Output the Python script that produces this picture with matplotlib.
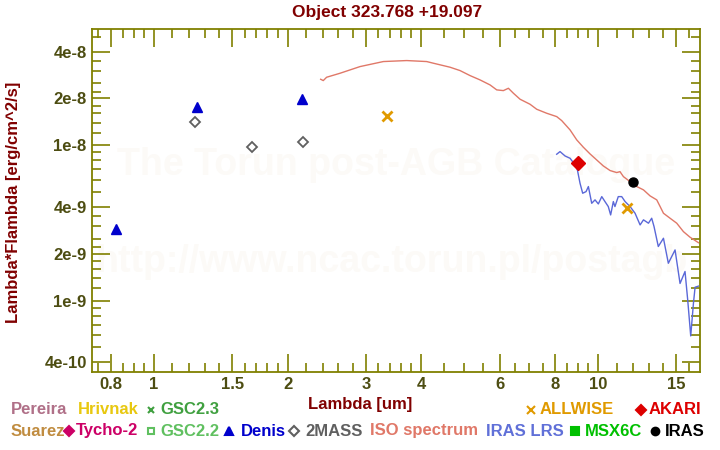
import matplotlib
matplotlib.use("Agg")
import matplotlib.pyplot as plt
from matplotlib.ticker import FixedLocator, NullFormatter

plt.rcParams['font.family'] = ['Liberation Sans', 'DejaVu Sans']
plt.rcParams['font.weight'] = 'bold'

# photometry (wavelength um, lambda*F_lambda erg/cm2/s)
denis_wl = [0.82, 1.25, 2.15]
denis_fl = [2.87e-9, 1.77e-8, 1.98e-8]
mass2_wl = [1.235, 1.66, 2.16]
mass2_fl = [1.41e-8, 9.7e-9, 1.045e-8]
allwise_wl = [3.35, 11.6]
allwise_fl = [1.55e-8, 3.94e-9]
akari_wl = [9.0]
akari_fl = [7.66e-9]
iras_wl = [12.0]
iras_fl = [5.78e-9]

# ISO spectrum
iso_wl = [2.373, 2.405, 2.447, 2.623, 2.910, 3.284, 3.706, 4.111, 4.256, 4.640,
          4.887, 5.147, 5.422, 5.710, 5.911, 6.118, 6.280, 6.445, 6.672, 7.025,
          7.272, 7.658, 8.067, 8.279, 8.646, 8.950, 9.264, 9.589, 9.926, 10.27,
          10.64, 11.01, 11.20, 11.40, 11.80, 12.22, 12.65, 13.09, 13.55, 13.79,
          14.03, 14.52, 15.03, 15.56, 16.10, 16.82]
iso_fl = [2.657e-8, 2.605e-8, 2.737e-8, 2.904e-8, 3.206e-8, 3.454e-8, 3.505e-8, 3.454e-8, 3.370e-8, 3.176e-8,
          3.022e-8, 2.806e-8, 2.631e-8, 2.443e-8, 2.270e-8, 2.246e-8, 2.325e-8, 2.160e-8, 1.976e-8, 1.835e-8,
          1.704e-8, 1.606e-8, 1.528e-8, 1.440e-8, 1.254e-8, 1.082e-8, 9.70e-9, 8.79e-9, 8.04e-9, 7.36e-9,
          6.87e-9, 6.67e-9, 6.76e-9, 6.28e-9, 5.83e-9, 5.42e-9, 5.16e-9, 4.72e-9, 4.45e-9, 4.03e-9,
          3.65e-9, 3.39e-9, 3.15e-9, 2.78e-9, 2.56e-9, 2.36e-9]

# IRAS LRS spectrum
lrs_wl = [8.067, 8.207, 8.423, 8.646, 8.872, 8.98, 9.104, 9.23, 9.393, 9.507,
          9.672, 9.84, 10.01, 10.19, 10.36, 10.54, 10.67, 10.82, 10.91, 11.10,
          11.30, 11.50, 11.80, 12.11, 12.43, 12.65, 12.98, 13.20, 13.36, 13.66,
          14.03, 14.39, 14.90, 15.29, 15.69, 15.91, 16.16, 16.39, 16.53, 16.82]
lrs_fl = [8.75e-9, 9.10e-9, 8.53e-9, 8.24e-9, 7.47e-9, 6.94e-9, 5.69e-9, 4.91e-9, 5.03e-9, 5.42e-9,
          4.23e-9, 4.45e-9, 4.19e-9, 4.67e-9, 4.34e-9, 4.03e-9, 3.56e-9, 4.34e-9, 4.03e-9, 4.67e-9,
          4.67e-9, 4.34e-9, 4.03e-9, 3.65e-9, 3.07e-9, 3.31e-9, 3.15e-9, 3.39e-9, 3.00e-9, 2.23e-9,
          2.52e-9, 1.74e-9, 2.12e-9, 1.29e-9, 1.54e-9, 1.01e-9, 5.93e-10, 9.62e-10, 1.22e-9, 1.24e-9]

x_major = [0.8, 1, 1.5, 2, 3, 4, 6, 8, 10, 15]
x_labels = ['0.8', '1', '1.5', '2', '3', '4', '6', '8', '10', '15']
x_minor = [0.75, 0.85, 0.9, 0.95, 1.1, 1.2, 1.3, 1.4, 1.6, 1.7, 1.8, 1.9, 2.2, 2.4, 2.6, 2.8,
           3.2, 3.4, 3.6, 3.8, 4.5, 5, 5.5, 6.5, 7, 7.5, 8.5, 9, 9.5, 11, 12, 13, 14, 16]
y_major = [4e-10, 1e-9, 2e-9, 4e-9, 1e-8, 2e-8, 4e-8]
y_labels = ['4e-10', '1e-9', '2e-9', '4e-9', '1e-8', '2e-8', '4e-8']
y_minor = [5e-10, 6e-10, 7e-10, 8e-10, 9e-10, 1.2e-9, 1.4e-9, 1.6e-9, 1.8e-9,
           2.2e-9, 2.5e-9, 3e-9, 3.5e-9, 5e-9, 6e-9, 7e-9, 8e-9, 9e-9,
           1.2e-8, 1.4e-8, 1.6e-8, 1.8e-8, 2.2e-8, 2.5e-8, 3e-8, 3.5e-8, 5e-8]

axis_col = '#808000'
tick_col = '#4d4d12'
lab_col = '#800000'

fig = plt.figure(figsize=(7.2, 4.5), dpi=100)
ax = fig.add_axes([0.1282, 0.174, 0.8436, 0.7609])
ax.set_xscale('log')
ax.set_yscale('log')
ax.set_xlim(0.7263, 16.93)
ax.set_ylim(3.49e-10, 5.57e-8)

# watermark
ax.text(0.5, 0.605, 'The Torun post-AGB Catalogue', transform=ax.transAxes, ha='center', va='center',
        fontsize=27, fontweight='bold', color='#fcfaf7', zorder=0)
ax.text(0.492, 0.32, 'http://www.ncac.torun.pl/postagb', transform=ax.transAxes, ha='center', va='center',
        fontsize=27, fontweight='bold', color='#fcfaf7', zorder=0, clip_on=True)

ax.plot(iso_wl, iso_fl, color='#e07868', lw=1.0)
ax.plot(lrs_wl, lrs_fl, color='#5a68d8', lw=1.0)
ax.plot(denis_wl, denis_fl, '^', color='#0000cc', ms=7, mec='#0000cc')
ax.plot(mass2_wl, mass2_fl, 'D', mfc='none', mec='#606060', ms=5.5, mew=1.3)
ax.plot(allwise_wl, allwise_fl, 'x', color='#e09a00', ms=7, mew=2)
ax.plot(akari_wl, akari_fl, 'D', color='#dd0000', ms=7)
ax.plot(iras_wl, iras_fl, 'o', color='black', ms=6.5)

for s in ax.spines.values():
    s.set_color(axis_col)
    s.set_linewidth(1.3)

ax.xaxis.set_major_locator(FixedLocator(x_major))
ax.xaxis.set_minor_locator(FixedLocator(x_minor))
ax.set_xticklabels(x_labels)
ax.xaxis.set_minor_formatter(NullFormatter())
ax.yaxis.set_major_locator(FixedLocator(y_major))
ax.yaxis.set_minor_locator(FixedLocator(y_minor))
ax.set_yticklabels(y_labels)
ax.yaxis.set_minor_formatter(NullFormatter())
ax.tick_params(which='both', direction='in', top=True, right=True, color=axis_col, width=1.2)
ax.tick_params(which='major', length=13, labelsize=12, labelcolor=tick_col, pad=4)
ax.tick_params(which='minor', length=6.5)
for lab in ax.get_xticklabels() + ax.get_yticklabels():
    lab.set_fontweight('bold')

fig.text(0.537, 0.972, 'Object 323.768 +19.097', ha='center', va='center', fontsize=12.5,
         fontweight='bold', color=lab_col)
fig.text(0.5, 0.1, 'Lambda [um]', ha='center', va='center', fontsize=12, fontweight='bold', color=lab_col)
fig.text(0.019, 0.55, 'Lambda*Flambda [erg/cm^2/s]', ha='center', va='center', rotation=90,
         fontsize=12, fontweight='bold', color=lab_col)

# legend
def leg(x, y, text, color, marker=None, mfc=None, ms=5, mx=None):
    yf = 1 - y / 450
    if marker is not None:
        fig.add_artist(plt.Line2D([mx / 720], [yf], marker=marker, color=color, ls='none', ms=ms,
                                  mfc=mfc if mfc else color, mec=color, mew=1.5))
    fig.text(x / 720, yf, text, ha='left', va='center', fontsize=12, fontweight='bold', color=color)

leg(10.5, 410, 'Pereira', '#b07088')
leg(77.5, 410, 'Hrivnak', '#e8c810')
leg(160.5, 410, 'GSC2.3', '#40a040', 'x', ms=5, mx=150.7)
leg(540, 410, 'ALLWISE', '#e09a00', 'x', ms=6, mx=530.7)
leg(649, 410, 'AKARI', '#dd0000', 'D', ms=5, mx=640.7)
leg(10.5, 431, 'Suarez', '#c08c40')
leg(76, 431, 'Tycho-2', '#cc0066', 'D', ms=5, mx=69.3)
leg(160.5, 431, 'GSC2.2', '#60c060', 's', mfc='white', ms=5, mx=150.7)
leg(240.5, 431, 'Denis', '#0000cc', '^', ms=6, mx=229.3)
leg(305, 431, '2MASS', '#606060', 'D', mfc='white', ms=5, mx=294)
leg(370.5, 431, 'ISO spectrum', '#e07868')
leg(485.5, 431, 'IRAS LRS', '#6070d8')
leg(585, 431, 'MSX6C', '#00c000', 's', ms=6, mx=575)
leg(665, 431, 'IRAS', 'black', 'o', ms=5.5, mx=655)

fig.savefig('out.png', dpi=100)
